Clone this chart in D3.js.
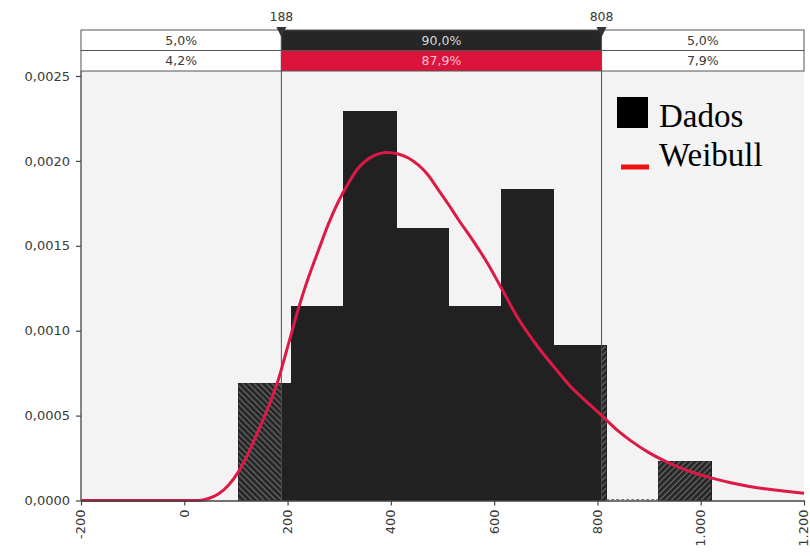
<!DOCTYPE html>
<html>
<head>
<meta charset="utf-8">
<script src="https://cdn.jsdelivr.net/npm/d3@7"></script>
<style>
  html, body { margin: 0; padding: 0; background: #fff; }
  svg { display: block; }
</style>
</head>
<body>
<svg id="chart" width="810" height="556"></svg>
<script>
// Histogram bins (edges) and densities of the observed data
const binEdges = [105, 207, 309, 410, 512, 614, 715, 817, 918, 1020];
const binDensity = [0.00069, 0.00114, 0.00229, 0.00160, 0.00114, 0.00183, 0.00091, 0, 0.00023];

// Fitted Weibull density, sampled along x
const weibullX = [-200, 28, 47, 66, 86, 105, 124, 144, 163, 182, 202, 221, 240, 260, 279, 298, 318, 337, 356, 376, 391, 414, 434, 453, 472, 492, 511, 530, 561, 588, 614, 646, 685, 724, 749, 782, 807, 840, 865, 898, 923, 956, 994, 1020, 1058, 1124, 1160, 1200];
const weibullY = [0, 0, 0.000012, 0.000038, 0.000091, 0.00017, 0.000278, 0.000415, 0.000552, 0.00071, 0.000925, 0.00113, 0.00131, 0.001475, 0.001628, 0.001758, 0.00187, 0.001958, 0.002011, 0.002041, 0.00205, 0.002041, 0.002017, 0.001976, 0.001917, 0.001829, 0.001746, 0.001658, 0.001522, 0.001393, 0.001251, 0.001075, 0.000904, 0.000757, 0.000668, 0.000574, 0.000504, 0.00041, 0.000351, 0.000285, 0.000244, 0.000198, 0.000156, 0.000133, 0.000105, 0.000069, 0.000056, 0.000043];

// Axis ticks
const xTicks = [-200, 0, 200, 400, 600, 800, 1000, 1200];
const yTicks = [0, 0.0005, 0.0010, 0.0015, 0.0020, 0.0025];

// Delimiters and the share of each distribution in the three zones
const delimiters = [188, 808];
const dataShares = ["5,0%", "90,0%", "5,0%"];
const fitShares = ["4,2%", "87,9%", "7,9%"];

// Legend
const legendLabels = ["Dados", "Weibull"];

const svg = d3.select("#chart");
const plotL = 81, plotR = 804, plotT = 71, plotB = 500.5;

const x = d3.scaleLinear().domain([-200, 1200]).range([plotL, plotR]);
const y = d3.scaleLinear().domain([0, 0.0025]).range([plotB, 76]);

const fontSans = "'DejaVu Sans', Verdana, sans-serif";

// hatch patterns for the tails outside the delimiters
const defs = svg.append("defs");
function hatch(id, angle) {
  const p = defs.append("pattern")
    .attr("id", id)
    .attr("patternUnits", "userSpaceOnUse")
    .attr("width", 4.2).attr("height", 4.2)
    .attr("patternTransform", `rotate(${angle})`);
  p.append("rect").attr("width", 4.2).attr("height", 4.2).attr("fill", "#262626");
  p.append("line").attr("x1", 1).attr("x2", 1).attr("y1", 0).attr("y2", 4.2)
    .attr("stroke", "#707070").attr("stroke-width", 1.1);
}
hatch("hatchLeft", -45);
hatch("hatchRight", 45);

// plot background
svg.append("rect")
  .attr("x", plotL).attr("y", plotT)
  .attr("width", plotR - plotL).attr("height", plotB - plotT)
  .attr("fill", "#f3f3f3");

// histogram bars
const bars = svg.append("g");
binDensity.forEach((d, i) => {
  const a = binEdges[i], b = binEdges[i + 1];
  if (d <= 0) {
    bars.append("line")
      .attr("x1", x(a)).attr("x2", x(b))
      .attr("y1", plotB - 1).attr("y2", plotB - 1)
      .attr("stroke", "#777").attr("stroke-width", 1)
      .attr("stroke-dasharray", "3,2");
    return;
  }
  bars.append("rect")
    .attr("x", x(a)).attr("y", y(d))
    .attr("width", x(b) - x(a)).attr("height", y(0) - y(d))
    .attr("fill", "#212121")
    .attr("shape-rendering", "crispEdges")
    .attr("stroke", "#212121").attr("stroke-width", 1);
  // left tail
  if (a < delimiters[0]) {
    const e = Math.min(b, delimiters[0]);
    bars.append("rect")
      .attr("x", x(a)).attr("y", y(d))
      .attr("width", x(e) - x(a)).attr("height", y(0) - y(d))
      .attr("fill", "url(#hatchLeft)");
  }
  // right tail
  if (b > delimiters[1]) {
    const s = Math.max(a, delimiters[1]);
    bars.append("rect")
      .attr("x", x(s)).attr("y", y(d))
      .attr("width", x(b) - x(s)).attr("height", y(0) - y(d))
      .attr("fill", "url(#hatchRight)");
  }
});

// delimiter lines
svg.append("g").selectAll("line").data(delimiters).join("line")
  .attr("x1", d => x(d)).attr("x2", d => x(d))
  .attr("y1", 30).attr("y2", plotB)
  .attr("stroke", "#505050").attr("stroke-width", 1);

// Weibull curve
const pts = weibullX.map((v, i) => [v, weibullY[i]]);
svg.append("path")
  .datum(pts)
  .attr("fill", "none")
  .attr("stroke", "#dc1a45")
  .attr("stroke-width", 3)
  .attr("stroke-linejoin", "round")
  .attr("d", d3.line().x(d => x(d[0])).y(d => y(d[1])).curve(d3.curveMonotoneX));

// axes
const fmtY = v => d3.format(".4f")(v).replace(".", ",");
const fmtX = v => {
  const s = String(Math.abs(v)).replace(/\B(?=(\d{3})+(?!\d))/g, ".");
  return (v < 0 ? "-" : "") + s;
};

const yAxis = svg.append("g")
  .attr("transform", `translate(${plotL},0)`)
  .call(d3.axisLeft(y).tickValues(yTicks).tickFormat(fmtY).tickSize(5).tickPadding(6).tickSizeOuter(0));
yAxis.select(".domain").attr("d", `M0,${plotT}V${plotB}`);

const xAxis = svg.append("g")
  .attr("transform", `translate(0,${plotB})`)
  .call(d3.axisBottom(x).tickValues(xTicks).tickFormat(fmtX).tickSize(5).tickSizeOuter(0));
xAxis.selectAll(".tick text")
  .attr("transform", "rotate(-90)")
  .attr("text-anchor", "end")
  .attr("x", -9).attr("y", 0).attr("dy", "0.3em");

[yAxis, xAxis].forEach(g => {
  g.select(".domain").attr("stroke", "#444").attr("stroke-width", 1.3);
  g.selectAll(".tick line").attr("stroke", "#444").attr("stroke-width", 1.2);
  g.selectAll(".tick text").attr("fill", "#3a3a3a")
    .style("font-family", fontSans).style("font-size", "13px");
});

// delimiter bars on top
const zones = [[-200, delimiters[0]], delimiters, [delimiters[1], 1200]];
const rows = [
  { y0: 30, y1: 50.5, labels: dataShares, mid: "#262626", midText: "#d8d8d8" },
  { y0: 50.5, y1: 71, labels: fitShares, mid: "#dc143c", midText: "#f6c3cf" }
];
const topG = svg.append("g");
rows.forEach(r => {
  zones.forEach((z, i) => {
    topG.append("rect")
      .attr("x", x(z[0])).attr("y", r.y0)
      .attr("width", x(z[1]) - x(z[0])).attr("height", r.y1 - r.y0)
      .attr("fill", i === 1 ? r.mid : "#fff")
      .attr("stroke", "#555").attr("stroke-width", 1);
    topG.append("text")
      .attr("x", (x(z[0]) + x(z[1])) / 2).attr("y", (r.y0 + r.y1) / 2)
      .attr("dy", "0.36em").attr("text-anchor", "middle")
      .style("font-family", fontSans).style("font-size", "12.5px")
      .attr("fill", i === 1 ? r.midText : "#3a3a3a")
      .text(r.labels[i]);
  });
});

// delimiter markers and values
delimiters.forEach(v => {
  const cx = x(v);
  topG.append("path")
    .attr("d", `M${cx - 5},27 L${cx + 5},27 L${cx},37 Z`)
    .attr("fill", "#333");
  topG.append("text")
    .attr("x", cx).attr("y", 16).attr("dy", "0.36em")
    .attr("text-anchor", "middle")
    .style("font-family", fontSans).style("font-size", "12.5px")
    .attr("fill", "#3a3a3a")
    .text(v);
});

// legend
const lg = svg.append("g");
lg.append("rect").attr("x", 617).attr("y", 97).attr("width", 31).attr("height", 31).attr("fill", "#000");
lg.append("line").attr("x1", 621).attr("x2", 649).attr("y1", 167).attr("y2", 167)
  .attr("stroke", "#f01010").attr("stroke-width", 5);
lg.selectAll("text").data(legendLabels).join("text")
  .attr("x", 659).attr("y", (d, i) => 127 + i * 39)
  .style("font-family", "'Liberation Serif', 'Times New Roman', serif")
  .style("font-size", "33px")
  .attr("fill", "#000")
  .text(d => d);
</script>
</body>
</html>
